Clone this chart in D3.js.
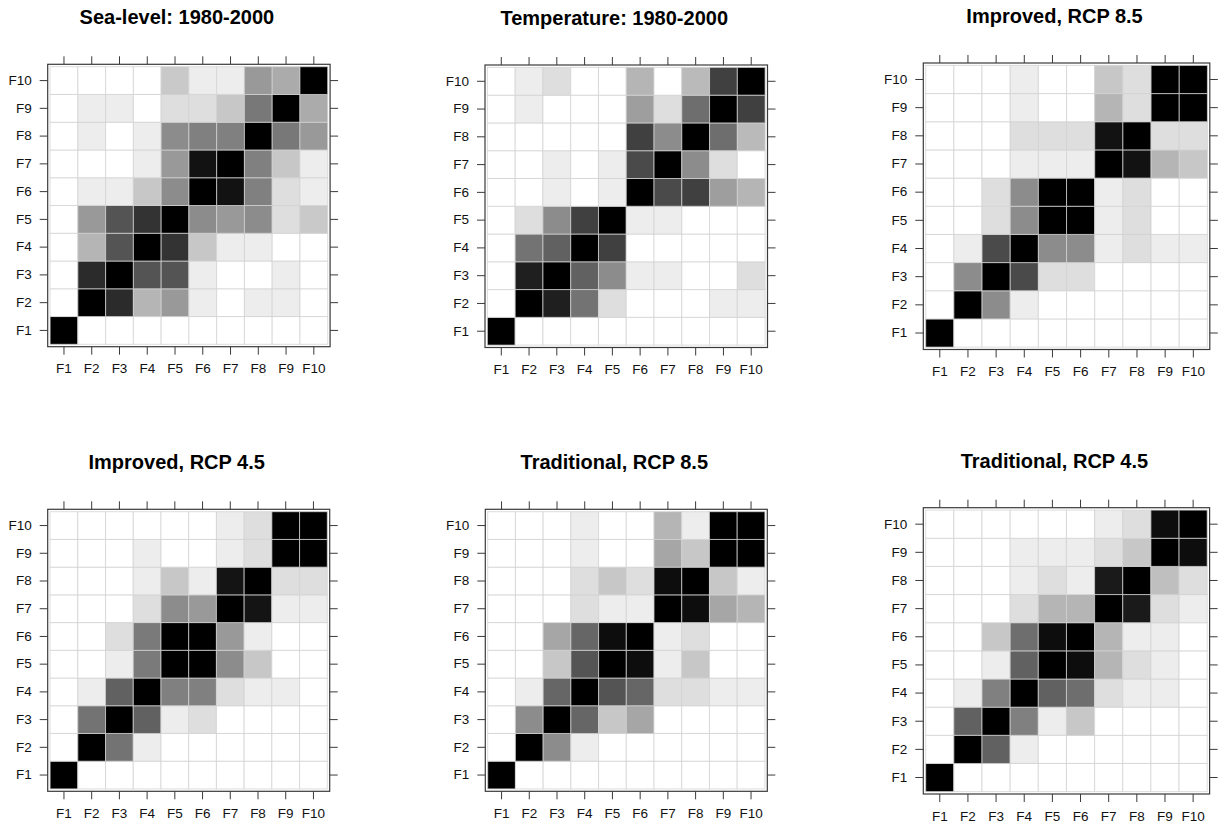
<!DOCTYPE html>
<html>
<head>
<meta charset="utf-8">
<script src="https://cdn.jsdelivr.net/npm/d3@7/dist/d3.min.js"></script>
<style>
  body { margin: 0; background: #fff; }
  svg { display: block; font-family: "Liberation Sans", Arial, Helvetica, sans-serif; }
</style>
</head>
<body>
<script>
// Factor labels shared by both axes of every panel
const factors = ["F1", "F2", "F3", "F4", "F5", "F6", "F7", "F8", "F9", "F10"];

const titles = [
  "Sea-level: 1980-2000",
  "Temperature: 1980-2000",
  "Improved, RCP 8.5",
  "Improved, RCP 4.5",
  "Traditional, RCP 8.5",
  "Traditional, RCP 4.5"
];

// Association matrices, one row per factor from F1 up to F10 (0 = none, 1 = full)
const seaLevel = [
  [1, 0, 0, 0, 0, 0, 0, 0, 0, 0],
  [0, 1, .83, .29, .40, .07, 0, .07, .07, 0],
  [0, .83, 1, .67, .67, .07, 0, 0, .07, 0],
  [0, .29, .67, 1, .80, .22, .07, .07, 0, 0],
  [0, .40, .67, .80, 1, .45, .40, .45, .13, .21],
  [0, .07, .07, .22, .45, 1, .93, .50, .13, .07],
  [0, 0, 0, .07, .40, .93, 1, .50, .22, .07],
  [0, .07, 0, .07, .45, .50, .50, 1, .53, .40],
  [0, .07, .07, 0, .13, .13, .22, .53, 1, .33],
  [0, 0, 0, 0, .21, .07, .07, .40, .33, 1]
];

const temperature = [
  [1, 0, 0, 0, 0, 0, 0, 0, 0, 0],
  [0, 1, .88, .55, .13, 0, 0, 0, .07, .07],
  [0, .88, 1, .62, .45, .07, .07, 0, 0, .13],
  [0, .55, .62, 1, .75, 0, 0, 0, 0, 0],
  [0, .13, .45, .75, 1, .07, .07, 0, 0, 0],
  [0, 0, .07, 0, .07, 1, .71, .75, .38, .29],
  [0, 0, .07, 0, .07, .71, 1, .45, .13, 0],
  [0, 0, 0, 0, 0, .75, .45, 1, .57, .27],
  [0, .07, 0, 0, 0, .38, .13, .57, 1, .75],
  [0, .07, .13, 0, 0, .29, 0, .27, .75, 1]
];

const improved85 = [
  [1, 0, 0, 0, 0, 0, 0, 0, 0, 0],
  [0, 1, .45, .07, 0, 0, 0, 0, 0, 0],
  [0, .45, 1, .71, .13, .13, 0, 0, 0, 0],
  [0, .07, .71, 1, .45, .45, .07, .13, .07, .07],
  [0, 0, .13, .45, 1, 1, .07, .13, 0, 0],
  [0, 0, .13, .45, 1, 1, .07, .13, 0, 0],
  [0, 0, 0, .07, .07, .07, 1, .93, .29, .22],
  [0, 0, 0, .13, .13, .13, .93, 1, .13, .13],
  [0, 0, 0, .07, 0, 0, .29, .13, 1, 1],
  [0, 0, 0, .07, 0, 0, .22, .13, 1, 1]
];

const improved45 = [
  [1, 0, 0, 0, 0, 0, 0, 0, 0, 0],
  [0, 1, .55, .07, 0, 0, 0, 0, 0, 0],
  [0, .55, 1, .62, .07, .13, 0, 0, 0, 0],
  [0, .07, .62, 1, .50, .50, .13, .07, .07, 0],
  [0, 0, .07, .52, 1, 1, .45, .22, 0, 0],
  [0, 0, .13, .52, 1, 1, .40, .07, 0, 0],
  [0, 0, 0, .13, .45, .40, 1, .92, .07, .07],
  [0, 0, 0, .07, .22, .07, .92, 1, .13, .13],
  [0, 0, 0, .07, 0, 0, .07, .13, 1, 1],
  [0, 0, 0, 0, 0, 0, .07, .13, 1, 1]
];

const traditional85 = [
  [1, 0, 0, 0, 0, 0, 0, 0, 0, 0],
  [0, 1, .45, .07, 0, 0, 0, 0, 0, 0],
  [0, .45, 1, .60, .22, .35, 0, 0, 0, 0],
  [0, .07, .60, 1, .67, .60, .13, .13, .07, .07],
  [0, 0, .22, .67, 1, .95, .07, .22, 0, 0],
  [0, 0, .35, .60, .95, 1, .07, .13, 0, 0],
  [0, 0, 0, .13, .07, .07, 1, .95, .35, .29],
  [0, 0, 0, .13, .22, .13, .95, 1, .22, .07],
  [0, 0, 0, .07, 0, 0, .35, .22, 1, 1],
  [0, 0, 0, .07, 0, 0, .29, .07, 1, 1]
];

const traditional45 = [
  [1, 0, 0, 0, 0, 0, 0, 0, 0, 0],
  [0, 1, .62, .07, 0, 0, 0, 0, 0, 0],
  [0, .62, 1, .50, .07, .22, 0, 0, 0, 0],
  [0, .07, .50, 1, .62, .57, .13, .07, .07, 0],
  [0, 0, .07, .62, 1, .95, .29, .13, .07, 0],
  [0, 0, .22, .57, .95, 1, .29, .07, .07, 0],
  [0, 0, 0, .13, .29, .29, 1, .90, .13, .07],
  [0, 0, 0, .07, .13, .07, .90, 1, .25, .13],
  [0, 0, 0, .07, .07, .07, .13, .22, 1, .95],
  [0, 0, 0, 0, 0, 0, .07, .13, .95, 1]
];

const matrices = [seaLevel, temperature, improved85, improved45, traditional85, traditional45];

// Panel frames (left, top, side length) in a 2 x 3 grid
const frames = [
  { x: 47.7,  y: 64.3,  s: 282.4 },
  { x: 485.0, y: 65.0,  s: 282.5 },
  { x: 923.3, y: 63.0,  s: 286.5 },
  { x: 47.7,  y: 509.3, s: 282.0 },
  { x: 485.3, y: 509.3, s: 282.0 },
  { x: 923.3, y: 507.7, s: 286.3 }
];

const W = 1224, H = 823;
const svg = d3.select("body").append("svg").attr("width", W).attr("height", H);

const shade = d3.scaleLinear().domain([0, 1]).range(["#ffffff", "#000000"]);
const inset = 2.4;
const tickLen = 8;
const axisColor = "#3a3a3a";

matrices.forEach((m, k) => {
  const f = frames[k];
  const g = svg.append("g");

  const x = d3.scaleBand().domain(factors).range([f.x + inset, f.x + f.s - inset]);
  const y = d3.scaleBand().domain(factors.slice().reverse()).range([f.y + inset, f.y + f.s - inset]);

  // title
  g.append("text")
    .attr("x", f.x + f.s / 2 - 12)
    .attr("y", f.y - 40)
    .attr("text-anchor", "middle")
    .attr("font-size", 20)
    .attr("font-weight", "bold")
    .attr("fill", "#000")
    .text(titles[k]);

  // cells
  const cells = [];
  m.forEach((row, r) => row.forEach((v, c) => cells.push({ r: factors[r], c: factors[c], v })));
  g.append("g").selectAll("rect").data(cells).join("rect")
    .attr("x", d => x(d.c))
    .attr("y", d => y(d.r))
    .attr("width", x.bandwidth())
    .attr("height", y.bandwidth())
    .attr("fill", d => shade(d.v))
    .attr("stroke", "#d2d2d2")
    .attr("stroke-opacity", 0.75)
    .attr("stroke-width", 1);

  // axes: ticks on all four sides, labels on left and bottom
  const styleAxis = sel => {
    sel.select(".domain").remove();
    sel.selectAll(".tick line").attr("stroke", axisColor).attr("stroke-width", 1);
    sel.selectAll(".tick text")
      .attr("font-size", 13.5)
      .attr("fill", "#111")
      .attr("font-family", "'Liberation Sans', Arial, Helvetica, sans-serif");
  };

  g.append("g").attr("transform", `translate(${f.x},0)`)
    .call(d3.axisLeft(y).tickSize(tickLen).tickPadding(8))
    .call(styleAxis);
  g.append("g").attr("transform", `translate(0,${f.y + f.s})`)
    .call(d3.axisBottom(x).tickSize(tickLen).tickPadding(9))
    .call(styleAxis);
  g.append("g").attr("transform", `translate(0,${f.y})`)
    .call(d3.axisTop(x).tickSize(tickLen).tickFormat(""))
    .call(styleAxis);
  g.append("g").attr("transform", `translate(${f.x + f.s},0)`)
    .call(d3.axisRight(y).tickSize(tickLen).tickFormat(""))
    .call(styleAxis);

  // frame
  g.append("rect")
    .attr("x", f.x).attr("y", f.y)
    .attr("width", f.s).attr("height", f.s)
    .attr("fill", "none")
    .attr("stroke", axisColor)
    .attr("stroke-width", 1.2);
});
</script>
</body>
</html>
